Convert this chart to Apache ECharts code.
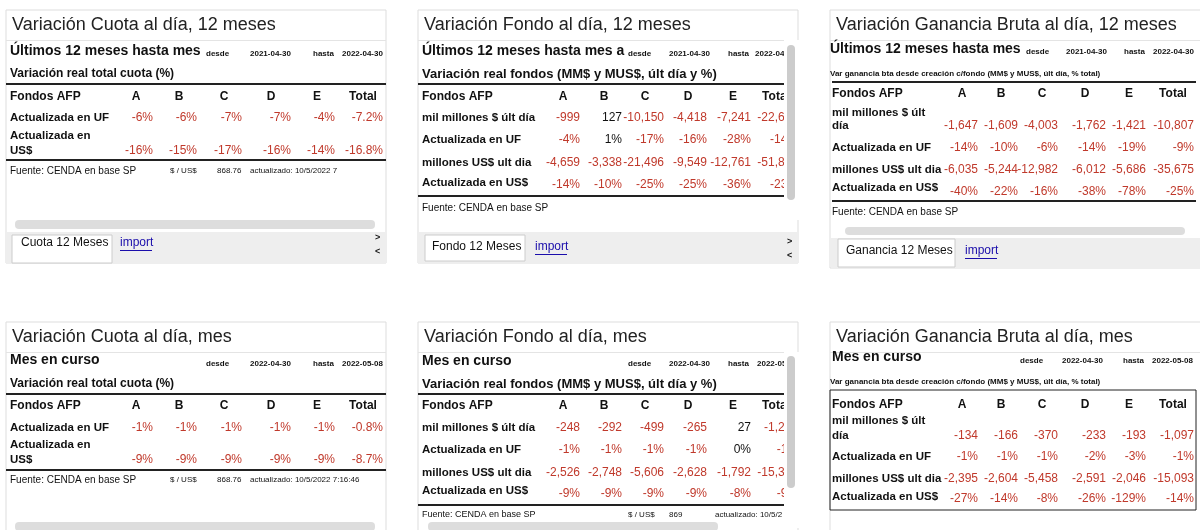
<!DOCTYPE html>
<html><head><meta charset="utf-8">
<script src="https://cdn.jsdelivr.net/npm/echarts@6/dist/echarts.min.js"></script>
<style>html,body{margin:0;padding:0;background:#fff}#c{width:1200px;height:530px}</style>
</head><body><div id="c"></div>
<script>
const cols=['A','B','C','D','E','Total'];
// 12 meses
const cuota12UF=[-6,-6,-7,-7,-4,-7.2];
const cuota12US=[-16,-15,-17,-16,-14,-16.8];
const fondo12MM=[-999,127,-10150,-4418,-7241,-22681];
const fondo12UF=[-4,1,-17,-16,-28,-14];
const fondo12MUS=[-4659,-3338,-21496,-9549,-12761,-51803];
const fondo12US=[-14,-10,-25,-25,-36,-23];
const gan12MM=[-1647,-1609,-4003,-1762,-1421,-10807];
const gan12UF=[-14,-10,-6,-14,-19,-9];
const gan12MUS=[-6035,-5244,-12982,-6012,-5686,-35675];
const gan12US=[-40,-22,-16,-38,-78,-25];
// mes
const cuotaMesUF=[-1,-1,-1,-1,-1,-0.8];
const cuotaMesUS=[-9,-9,-9,-9,-9,-8.7];
const fondoMesMM=[-248,-292,-499,-265,27,-1277];
const fondoMesUF=[-1,-1,-1,-1,0,-1];
const fondoMesMUS=[-2526,-2748,-5606,-2628,-1792,-15300];
const fondoMesUS=[-9,-9,-9,-9,-8,-9];
const ganMesMM=[-134,-166,-370,-233,-193,-1097];
const ganMesUF=[-1,-1,-1,-2,-3,-1];
const ganMesMUS=[-2395,-2604,-5458,-2591,-2046,-15093];
const ganMesUS=[-27,-14,-8,-26,-129,-14];
const dolar12=868.76, dolarMes=869;

const F='"Liberation Sans", Arial, sans-serif';
const RED='#c0392b';
const g=[];
function T(x,y,text,o){o=o||{};g.push({type:'text',z:o.z||10,style:{x:x,y:y,text:text,font:(o.w||'normal')+' '+(o.s||12)+'px '+F,fill:o.c||'#111',textAlign:o.a||'left',textVerticalAlign:'middle'}});}
function R(x,y,w,h,fill,stroke,r,z){g.push({type:'rect',z:z||1,shape:{x:x,y:y,width:w,height:h,r:r||0},style:{fill:fill||'none',stroke:stroke||'none',lineWidth:1}});}
function L(x1,y,x2,c,w){R(x1,y,x2-x1,w||2,c||'#222',null,0,5);}
const pct=(d)=>v=>v.toFixed(d)+'%';
const num=v=>v.toLocaleString('en-US');
function vals(arr,rights,y,fmt){arr.forEach((v,i)=>T(rights[i],y,fmt(v),{a:'right',s:12,c:v<0?RED:'#111'}));}
function hdr(centers,y,x0){T(x0,y,'Fondos AFP',{w:'bold',s:12});cols.forEach((c,i)=>T(centers[i],y,c,{w:'bold',s:12,a:'center'}));}
function box(x,y,w,h,title){R(x,y,w,h,'#fff','#ddd',0,0);T(x+6,y+15,title,{s:18,c:'#222'});R(x,y+30,w,1,'#e4e4e4',null,0,1);}
const lab=(x,y,t)=>T(x,y,t,{w:'bold',s:11.5});

// Panel 1
box(6,10,380,253,'Variación Cuota al día, 12 meses');
T(10,51,'Últimos 12 meses hasta mes',{w:'bold',s:14});
T(206,54,'desde',{w:'bold',s:8});T(250,54,'2021-04-30',{w:'bold',s:8});T(313,54,'hasta',{w:'bold',s:8});T(342,54,'2022-04-30',{w:'bold',s:8});
T(10,74,'Variación real total cuota (%)',{w:'bold',s:12});
L(6,83,386);
const c1=[136,179,224,271,317,363], r1=[153,197,242,291,335,383];
hdr(c1,97,10);
lab(10,118,'Actualizada en UF');vals(cuota12UF,r1,118,v=>pct(Number.isInteger(v)?0:1)(v));
lab(10,136,'Actualizada en');lab(10,151,'US$');vals(cuota12US,r1,151,v=>pct(Number.isInteger(v)?0:1)(v));
L(6,159,386);
T(10,171,'Fuente: CENDA en base SP',{s:10});T(170,171,'$ / US$',{s:8});T(217,171,String(dolar12),{s:8});T(250,171,'actualizado: 10/5/2022 7',{s:8});
R(15,220,360,9,'#ddd',null,4,3);
R(6,232,380,31,'#eeeeee',null,0,2);R(12,235,100,28,'#fff','#ccc',0,3);T(21,243,'Cuota 12 Meses',{s:12});T(120,243,'import',{s:12,c:'#1a0dab'});R(120,250,32,1,'#1a0dab',null,0,6);
T(375,238,'>',{s:9,w:'bold'});T(375,252,'<',{s:9,w:'bold'});

// Panel 2
box(418,10,380,253,'Variación Fondo al día, 12 meses');
T(422,51,'Últimos 12 meses hasta mes a',{w:'bold',s:14});
T(628,54,'desde',{w:'bold',s:8});T(669,54,'2021-04-30',{w:'bold',s:8});T(728,54,'hasta',{w:'bold',s:8});T(755,54,'2022-04-30',{w:'bold',s:8});
T(422,74,'Variación real fondos (MM$ y MUS$, últ día y %)',{w:'bold',s:13});
L(418,83,790);
const c2=[563,604,645,688,733,776], r2=[580,622,664,707,751,798];
hdr(c2,97,422);
lab(422,118,'mil millones $ últ día');vals(fondo12MM,r2,118,num);
lab(422,140,'Actualizada en UF');vals(fondo12UF,r2,140,pct(0));
lab(422,163,'millones US$ ult dia');vals(fondo12MUS,r2,163,num);
lab(422,183,'Actualizada en US$');vals(fondo12US,r2,185,pct(0));
L(418,195,790);
T(422,208,'Fuente: CENDA en base SP',{s:10});
R(784,40,20,180,'#fff',null,0,20);R(787,45,8,155,'#ccc',null,4,21);
R(418,232,380,31,'#eeeeee',null,0,2);R(425,235,100,26,'#fff','#ccc',0,3);T(432,247,'Fondo 12 Meses',{s:12});T(535,247,'import',{s:12,c:'#1a0dab'});R(535,254,32,1,'#1a0dab',null,0,6);
T(787,242,'>',{s:9,w:'bold'});T(787,256,'<',{s:9,w:'bold'});

// Panel 3
box(830,10,380,258,'Variación Ganancia Bruta al día, 12 meses');
T(830,49,'Últimos 12 meses hasta mes',{w:'bold',s:14});
T(1026,52,'desde',{w:'bold',s:8});T(1066,52,'2021-04-30',{w:'bold',s:8});T(1124,52,'hasta',{w:'bold',s:8});T(1153,52,'2022-04-30',{w:'bold',s:8});
T(830,74,'Var ganancia bta desde creación c/fondo (MM$ y MUS$, últ día, % total)',{w:'bold',s:8});
L(832,81,1196);
const c3=[962,1001,1042,1085,1129,1173], r3=[978,1018,1058,1106,1146,1194];
hdr(c3,94,832);
lab(832,113,'mil millones $ últ');lab(832,126,'día');vals(gan12MM,r3,126,num);
lab(832,148,'Actualizada en UF');vals(gan12UF,r3,148,pct(0));
lab(832,170,'millones US$ ult dia');vals(gan12MUS,r3,170,num);
lab(832,188,'Actualizada en US$');vals(gan12US,r3,192,pct(0));
L(832,200,1196);
T(832,212,'Fuente: CENDA en base SP',{s:10});
R(845,227,340,8,'#ddd',null,4,3);
R(831,238,369,30,'#eeeeee',null,0,2);R(838,239,117,28,'#fff','#ccc',0,3);T(846,251,'Ganancia 12 Meses',{s:12});T(965,251,'import',{s:12,c:'#1a0dab'});R(965,258,32,1,'#1a0dab',null,0,6);

// Panel 4
box(6,322,380,220,'Variación Cuota al día, mes');
T(10,360,'Mes en curso',{w:'bold',s:14});
T(206,364,'desde',{w:'bold',s:8});T(250,364,'2022-04-30',{w:'bold',s:8});T(313,364,'hasta',{w:'bold',s:8});T(342,364,'2022-05-08',{w:'bold',s:8});
T(10,384,'Variación real total cuota (%)',{w:'bold',s:12});
L(6,393,386);
hdr(c1,406,10);
lab(10,428,'Actualizada en UF');vals(cuotaMesUF,r1,428,v=>pct(Number.isInteger(v)?0:1)(v));
lab(10,445,'Actualizada en');lab(10,460,'US$');vals(cuotaMesUS,r1,460,v=>pct(Number.isInteger(v)?0:1)(v));
L(6,469,386);
T(10,480,'Fuente: CENDA en base SP',{s:10});T(170,480,'$ / US$',{s:8});T(217,480,String(dolar12),{s:8});T(250,480,'actualizado: 10/5/2022 7:16:46',{s:8});
R(15,522,360,9,'#ddd',null,4,3);

// Panel 5
box(418,322,380,220,'Variación Fondo al día, mes');
T(422,361,'Mes en curso',{w:'bold',s:14});
T(628,364,'desde',{w:'bold',s:8});T(669,364,'2022-04-30',{w:'bold',s:8});T(728,364,'hasta',{w:'bold',s:8});T(757,364,'2022-05-08',{w:'bold',s:8});
T(422,384,'Variación real fondos (MM$ y MUS$, últ día y %)',{w:'bold',s:13});
L(418,393,790);
hdr(c2,406,422);
lab(422,428,'mil millones $ últ día');vals(fondoMesMM,r2,428,num);
lab(422,450,'Actualizada en UF');vals(fondoMesUF,r2,450,pct(0));
lab(422,473,'millones US$ ult dia');vals(fondoMesMUS,r2,473,num);
lab(422,491,'Actualizada en US$');vals(fondoMesUS,r2,494,pct(0));
L(418,504,790);
T(422,515,'Fuente: CENDA en base SP',{s:9});T(628,515,'$ / US$',{s:8});T(669,515,String(dolarMes),{s:8});T(715,515,'actualizado: 10/5/2',{s:8});
R(784,352,20,176,'#fff',null,0,20);R(787,356,8,132,'#ccc',null,4,21);
R(428,522,290,9,'#ddd',null,4,3);

// Panel 6
box(830,322,380,220,'Variación Ganancia Bruta al día, mes');
T(832,357,'Mes en curso',{w:'bold',s:14});
T(1020,361,'desde',{w:'bold',s:8});T(1062,361,'2022-04-30',{w:'bold',s:8});T(1123,361,'hasta',{w:'bold',s:8});T(1152,361,'2022-05-08',{w:'bold',s:8});
T(830,382,'Var ganancia bta desde creación c/fondo (MM$ y MUS$, últ día, % total)',{w:'bold',s:8});
R(830,390,366,120,'none','#222',0,5);
hdr(c3,405,832);
lab(832,421,'mil millones $ últ');lab(832,436,'día');vals(ganMesMM,r3,436,num);
lab(832,457,'Actualizada en UF');vals(ganMesUF,r3,457,pct(0));
lab(832,479,'millones US$ ult dia');vals(ganMesMUS,r3,479,num);
lab(832,497,'Actualizada en US$');vals(ganMesUS,r3,499,pct(0));

const ch=echarts.init(document.getElementById('c'),null,{renderer:'canvas'});
ch.setOption({animation:false,graphic:{elements:g}});
</script></body></html>
